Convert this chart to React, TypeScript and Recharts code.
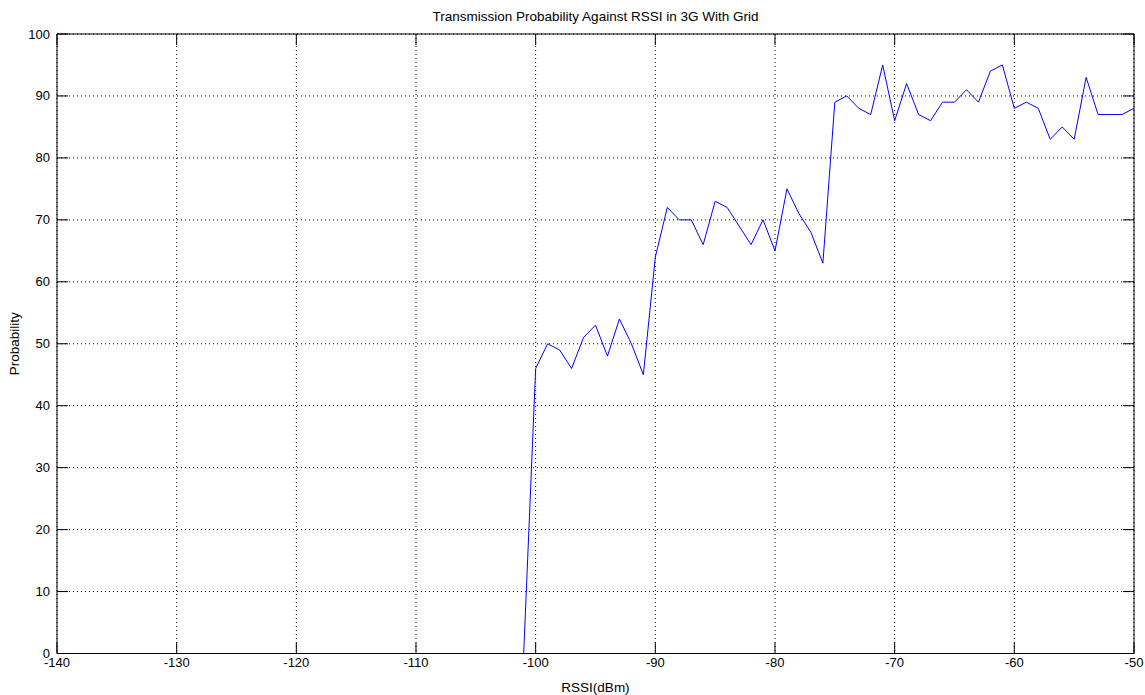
import React from 'react';
import { LineChart, Line, XAxis, YAxis, CartesianGrid, ReferenceArea } from 'recharts';

const rssi = [
  -101, -100, -99, -98, -97, -96, -95, -94, -93, -92, -91, -90, -89, -88, -87, -86, -85, -84,
  -83, -82, -81, -80, -79, -78, -77, -76, -75, -74, -73, -72, -71, -70, -69, -68, -67, -66,
  -65, -64, -63, -62, -61, -60, -59, -58, -57, -56, -55, -54, -53, -52, -51, -50,
];
const probability = [
  0, 46, 50, 49, 46, 51, 53, 48, 54, 50, 45, 64, 72, 70, 70, 66, 73, 72,
  69, 66, 70, 65, 75, 71, 68, 63, 89, 90, 88, 87, 95, 86, 92, 87, 86, 89,
  89, 91, 89, 94, 95, 88, 89, 88, 83, 85, 83, 93, 87, 87, 87, 88,
];
const xTicks = [-140, -130, -120, -110, -100, -90, -80, -70, -60, -50];
const yTicks = [0, 10, 20, 30, 40, 50, 60, 70, 80, 90, 100];

const titleText = 'Transmission Probability Against RSSI in 3G With Grid';
const xLabel = 'RSSI(dBm)';
const yLabel = 'Probability';

const data = rssi.map((r, i) => ({ rssi: r, p: probability[i] }));

const W = 1145;
const H = 695;
const PLOT_LEFT = 57;
const PLOT_RIGHT = 1134;
const PLOT_TOP = 34;
const PLOT_BOTTOM = 653.5;
const TICK = 11;
const FONT = "'Liberation Sans', Arial, Helvetica, sans-serif";
const FS = 13;
const FS_LABEL = 13.5;

const XTick = (props: any) => {
  const { x, payload } = props;
  return (
    <g>
      <line x1={x} x2={x} y1={PLOT_BOTTOM} y2={PLOT_BOTTOM - TICK} stroke="#000" strokeWidth={1} />
      <line x1={x} x2={x} y1={PLOT_TOP} y2={PLOT_TOP + TICK} stroke="#000" strokeWidth={1} />
      <text x={x} y={667} textAnchor="middle" fontFamily={FONT} fontSize={FS} fill="#000">
        {payload.value}
      </text>
    </g>
  );
};

const YTick = (props: any) => {
  const { y, payload } = props;
  return (
    <g>
      <line x1={PLOT_LEFT} x2={PLOT_LEFT + TICK} y1={y} y2={y} stroke="#000" strokeWidth={1} />
      <line x1={PLOT_RIGHT} x2={PLOT_RIGHT - TICK} y1={y} y2={y} stroke="#000" strokeWidth={1} />
      <text x={50} y={y + 4.5} textAnchor="end" fontFamily={FONT} fontSize={FS} fill="#000">
        {payload.value}
      </text>
    </g>
  );
};

export default function App() {
  return (
    <div style={{ position: 'absolute', left: 0, top: 0, width: W, height: H, background: '#fff' }}>
      <LineChart
        width={W}
        height={H}
        data={data}
        margin={{ top: PLOT_TOP, right: W - PLOT_RIGHT, bottom: 0, left: 0 }}
      >
        <CartesianGrid
          stroke="#000"
          strokeDasharray="1 3"
          horizontalValues={yTicks}
          verticalValues={xTicks}
        />
        <XAxis
          dataKey="rssi"
          type="number"
          domain={[-140, -50]}
          ticks={xTicks}
          interval={0}
          height={H - PLOT_BOTTOM}
          axisLine={false}
          tickLine={false}
          tick={<XTick />}
          allowDataOverflow
        />
        <YAxis
          type="number"
          domain={[0, 100]}
          ticks={yTicks}
          interval={0}
          width={PLOT_LEFT}
          axisLine={false}
          tickLine={false}
          tick={<YTick />}
          allowDataOverflow
        />
        <ReferenceArea x1={-140} x2={-50} y1={0} y2={100} fill="none" fillOpacity={0} stroke="#000" strokeWidth={1} ifOverflow="visible" />
        <Line
          type="linear"
          dataKey="p"
          stroke="#0000ff"
          strokeWidth={1}
          dot={false}
          activeDot={false}
          isAnimationActive={false}
        />
      </LineChart>
      <svg width={W} height={H} style={{ position: 'absolute', left: 0, top: 0, pointerEvents: 'none' }}>
        <text x={(PLOT_LEFT + PLOT_RIGHT) / 2} y={21} textAnchor="middle" fontFamily={FONT} fontSize={FS_LABEL} fill="#000">
          {titleText}
        </text>
        <text x={(PLOT_LEFT + PLOT_RIGHT) / 2} y={692} textAnchor="middle" fontFamily={FONT} fontSize={FS_LABEL} fill="#000">
          {xLabel}
        </text>
        <text
          x={19}
          y={(PLOT_TOP + PLOT_BOTTOM) / 2}
          textAnchor="middle"
          fontFamily={FONT}
          fontSize={FS_LABEL}
          fill="#000"
          transform={`rotate(-90 19 ${(PLOT_TOP + PLOT_BOTTOM) / 2})`}
        >
          {yLabel}
        </text>
      </svg>
    </div>
  );
}
